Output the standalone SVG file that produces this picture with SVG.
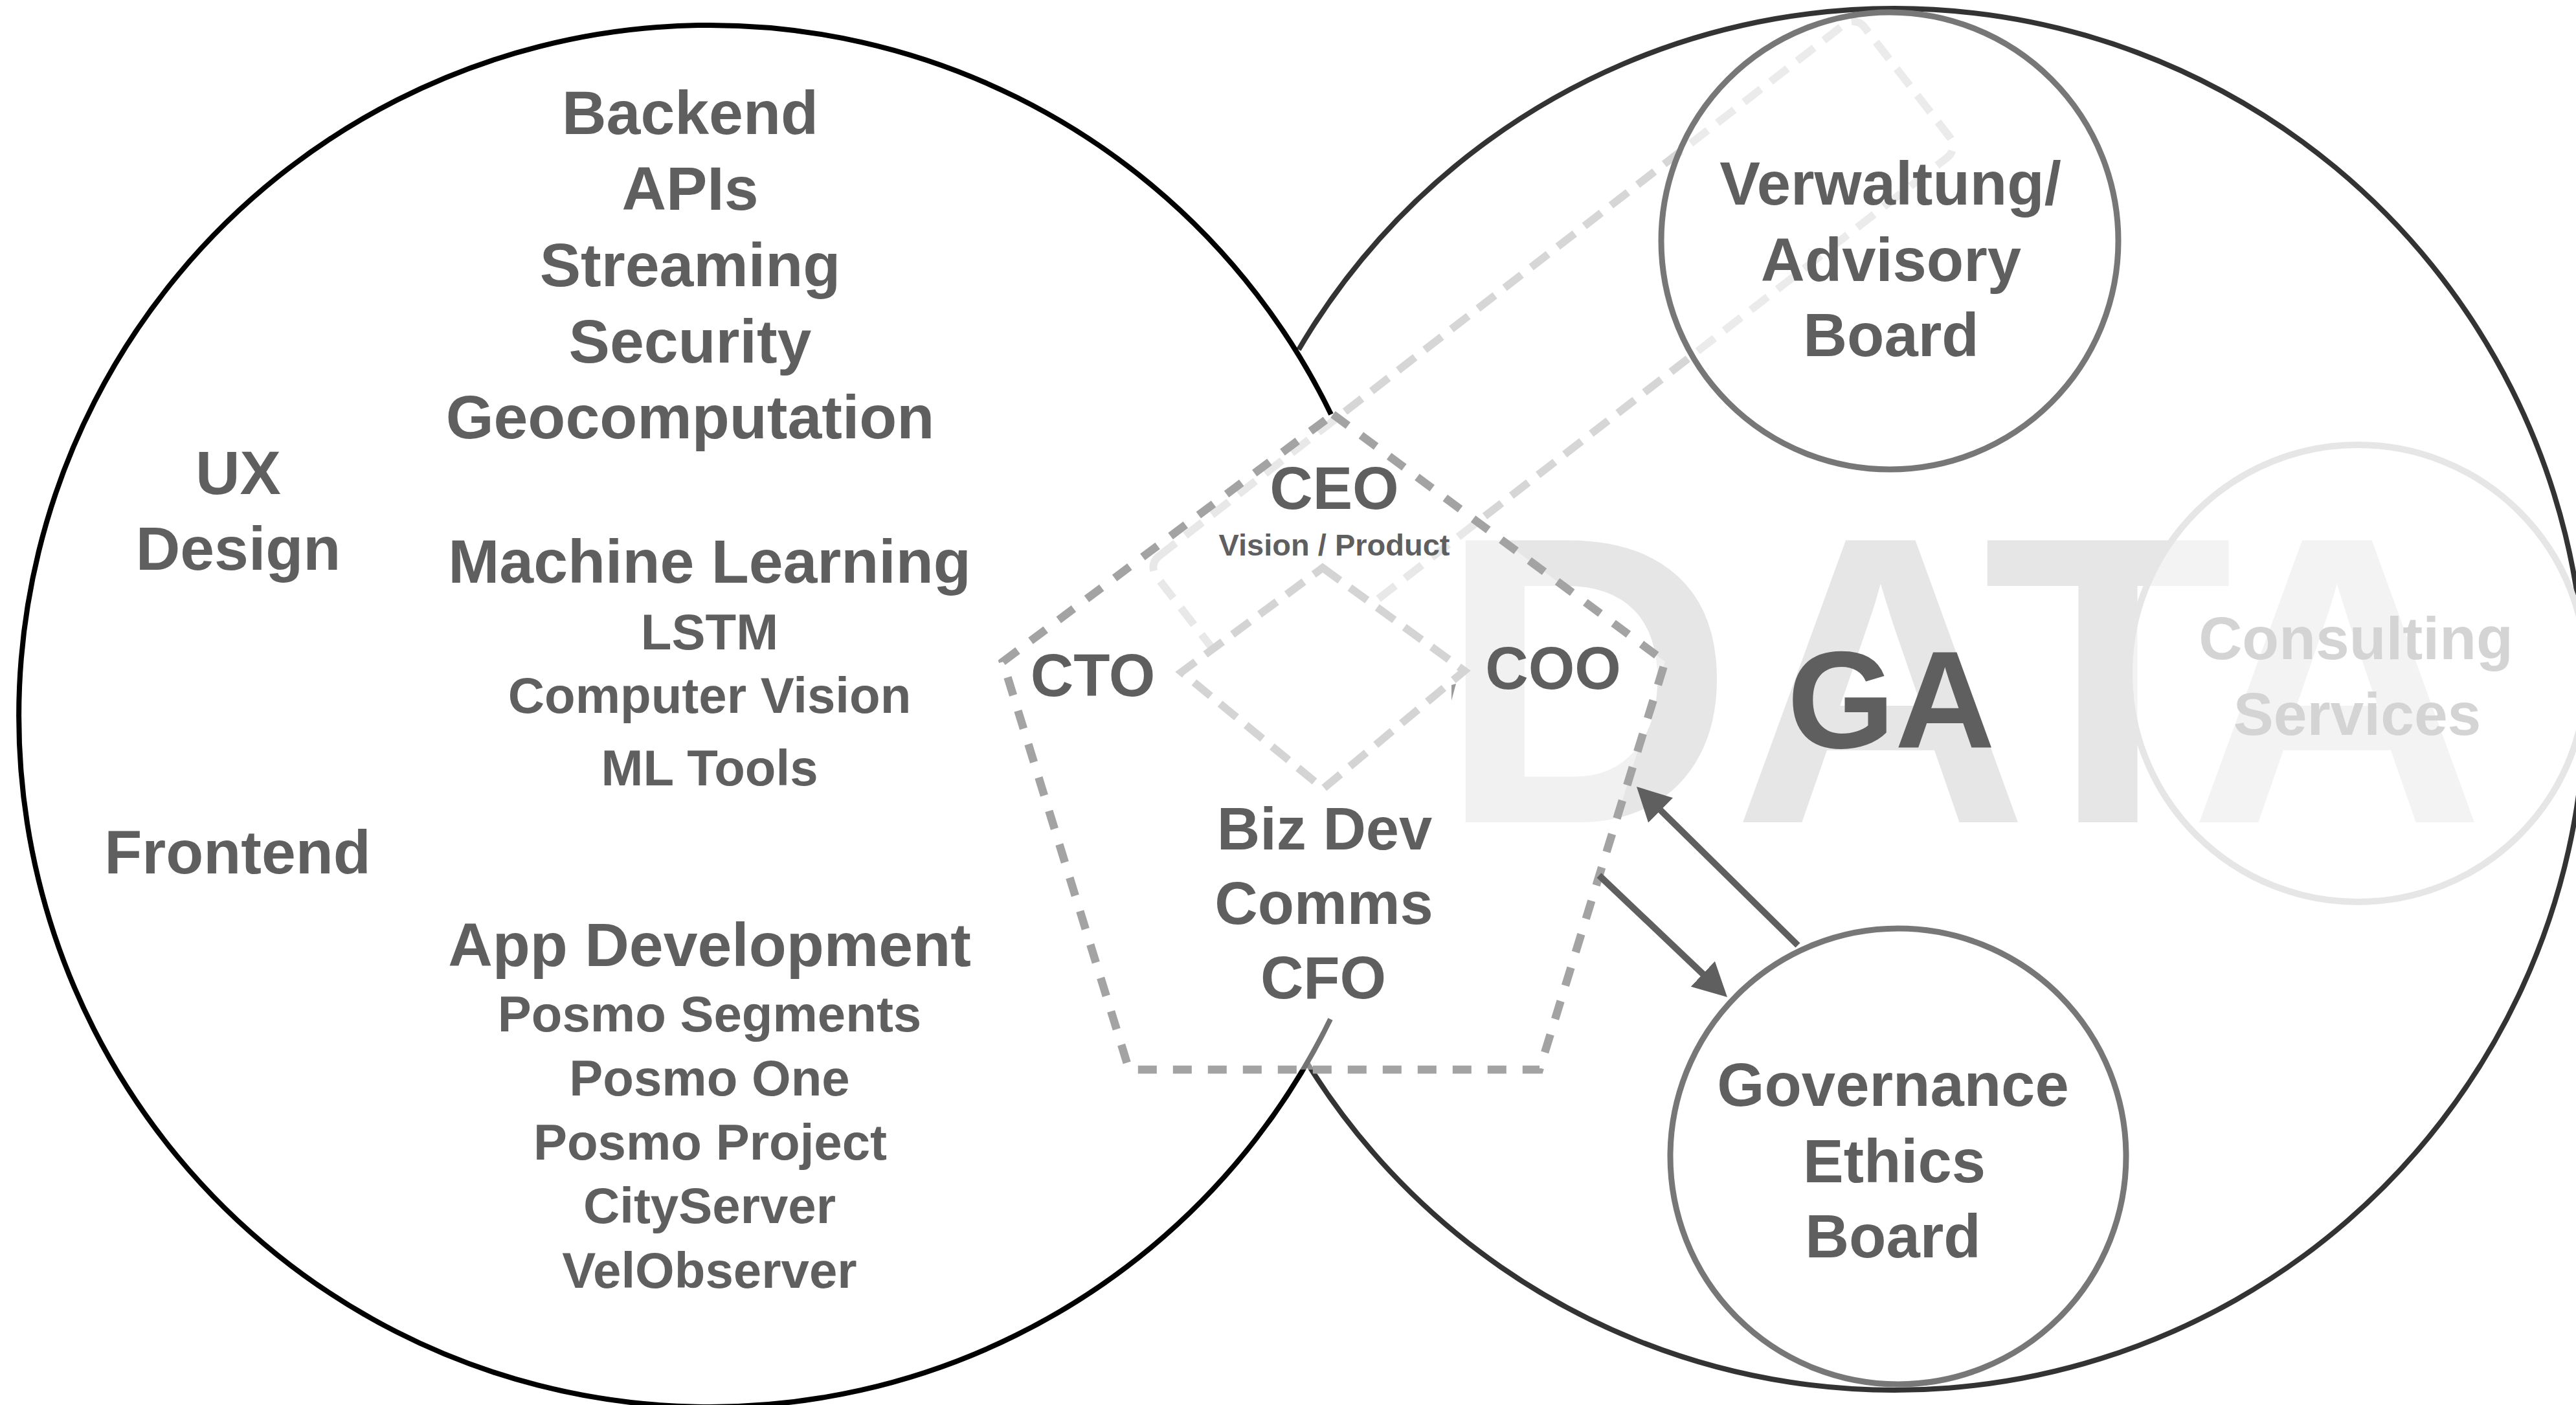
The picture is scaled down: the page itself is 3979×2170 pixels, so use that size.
<svg xmlns="http://www.w3.org/2000/svg" width="3979" height="2170" viewBox="0 0 3979 2170">
<defs>
<style>
.t{font-family:"Liberation Sans",Arial,Helvetica,sans-serif;font-weight:bold;fill:#5f5f5f;text-anchor:middle}
.xl{font-size:95px}
.sm{font-size:78px}
.md{font-size:92px}
.bd{font-size:94px}
.wm{font-family:"Liberation Sans",Arial,Helvetica,sans-serif;font-weight:bold;font-size:633px;fill:#e6e6e6;text-anchor:middle}
.cs{fill:#d4d4d4;font-size:93px}
.dashL{fill:none;stroke:#d6d6d6;stroke-width:12;stroke-dasharray:33 19}
.arrow{fill:none;stroke:#5f5f5f;stroke-width:10;marker-end:url(#ah)}
</style>
<marker id="ah" markerUnits="userSpaceOnUse" markerWidth="60" markerHeight="60" refX="12" refY="27" orient="auto">
<path d="M0 0 L52 27 L0 54 Z" fill="#5f5f5f"/>
</marker>
</defs>
<rect width="3979" height="2170" fill="#ffffff"/>

<g id="data-watermark">
<text class="wm" x="2450" y="1270">D</text>
<text class="wm" x="2905" y="1270">A</text>
<text class="wm" x="3256" y="1270">T</text>
<text class="wm" x="3610" y="1270">A</text>
</g>

<g id="tech-circle">
<path d="M2056 640 A1067 1067 0 1 0 2055 1574" fill="none" stroke="#000" stroke-width="8"/>
</g>
<g id="data-circle">
<path d="M2006 540 A1067 1067 0 1 1 2018 1640" fill="none" stroke="#000" stroke-opacity="0.8" stroke-width="8"/>
</g>

<g id="consulting">
<circle cx="3642" cy="1040" r="353" fill="#fff" fill-opacity="0.5" stroke="#e6e6e6" stroke-width="10"/>
<text class="t cs" x="3639" y="1018">Consulting</text>
<text class="t cs" x="3641" y="1135">Services</text>
</g>

<g id="board-link">
<rect class="dashL" x="-692" y="-130" width="1384" height="260" rx="22" transform="translate(2399 551) rotate(-37.8)"/>
</g>

<g id="verwaltung">
<circle cx="2919" cy="372" r="353" fill="#fff" fill-opacity="0.5" stroke="#777" stroke-width="9"/>
<text class="t bd" x="2920" y="316">Verwaltung/</text>
<text class="t bd" x="2921" y="434">Advisory</text>
<text class="t bd" x="2921" y="550">Board</text>
</g>

<g id="management">
<polygon points="2059,640 2572,1022 2378,1652 1744,1652 1549,1022" fill="#fff" fill-opacity="0.45" stroke="#a3a3a3" stroke-width="12.5" stroke-dasharray="29 25"/>
<polygon points="2043,877 2262,1036 2044,1218 1825,1038" fill="#fff" stroke="#d4d4d4" stroke-width="12" stroke-dasharray="33 19"/>
<polygon points="2242,1058 2249,1056 2242,1082" fill="#999"/>
<text class="t md" x="2061" y="786">CEO</text>
<text class="t" style="font-size:47px" x="2061" y="858">Vision / Product</text>
<text class="t md" x="1688" y="1075">CTO</text>
<text class="t md" x="2399" y="1064">COO</text>
<text class="t md" x="2046" y="1312">Biz Dev</text>
<text class="t md" x="2045" y="1427">Comms</text>
<text class="t md" x="2044" y="1542">CFO</text>
</g>

<g id="governance">
<circle cx="2932" cy="1786" r="352" fill="#fff" stroke="#777" stroke-width="9"/>
<text class="t bd" x="2924" y="1708">Governance</text>
<text class="t bd" x="2926" y="1826">Ethics</text>
<text class="t bd" x="2924" y="1942">Board</text>
</g>

<g id="ga">
<text class="t" style="font-size:214px" x="2921" y="1155">GA</text>
</g>

<g id="tech-labels">
<text class="t xl" x="1066" y="207">Backend</text>
<text class="t xl" x="1066" y="324">APIs</text>
<text class="t xl" x="1066" y="442">Streaming</text>
<text class="t xl" x="1066" y="560">Security</text>
<text class="t xl" x="1066" y="677">Geocomputation</text>
<text class="t xl" x="368" y="763">UX</text>
<text class="t xl" x="368" y="880">Design</text>
<text class="t xl" x="367" y="1349">Frontend</text>
<text class="t xl" x="1096" y="900">Machine Learning</text>
<text class="t sm" x="1096" y="1003">LSTM</text>
<text class="t sm" x="1096" y="1101">Computer Vision</text>
<text class="t sm" x="1096" y="1213">ML Tools</text>
<text class="t xl" x="1096" y="1492">App Development</text>
<text class="t sm" x="1096" y="1593">Posmo Segments</text>
<text class="t sm" x="1096" y="1692">Posmo One</text>
<text class="t sm" x="1097" y="1791">Posmo Project</text>
<text class="t sm" x="1096" y="1889">CityServer</text>
<text class="t sm" x="1096" y="1989">VelObserver</text>
</g>

<g id="connectors">
<line class="arrow" x1="2777" y1="1460" x2="2556.5" y2="1243"/>
<line class="arrow" x1="2470" y1="1352" x2="2639" y2="1512.5"/>
</g>
</svg>
